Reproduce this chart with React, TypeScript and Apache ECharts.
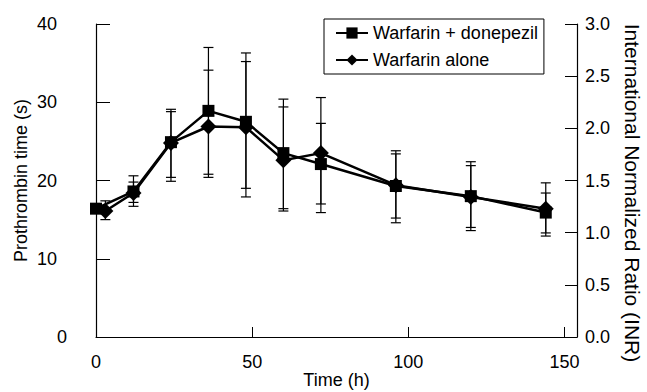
import React, { useEffect, useRef } from "react";
import * as echarts from "echarts";

const xTicks = [0, 50, 100, 150];
const leftTicks = [0, 10, 20, 30, 40];
const rightTicks = [0, 0.5, 1, 1.5, 2, 2.5, 3];

const seriesNames = ["Warfarin + donepezil", "Warfarin alone"];
const rightTitle = "International Normalized Ratio (INR)";

const squareTime = [0, 12, 24, 36, 48, 60, 72, 96, 120, 144];
const squareMean = [16.4, 18.6, 24.9, 28.9, 27.5, 23.5, 22.1, 19.3, 18.0, 15.9];
const squareUpper = [null, 20.6, 29.1, 37.0, 36.3, 30.4, 27.3, 23.4, 22.4, 18.4];
const squareLower = [null, 16.7, 20.4, 20.8, 19.0, 16.4, 17.0, 15.2, 13.6, 13.3];

const diamondTime = [3, 12, 24, 36, 48, 60, 72, 96, 120, 144];
const diamondMean = [16.1, 18.4, 24.8, 26.9, 26.8, 22.6, 23.5, 19.4, 17.9, 16.4];
const diamondUpper = [17.4, 19.8, 28.8, 34.1, 35.2, 29.4, 30.6, 23.8, 21.9, 19.7];
const diamondLower = [15.0, 17.2, 19.9, 20.4, 17.9, 16.1, 15.9, 14.6, 14.0, 12.9];

const FONT = "'Liberation Sans', Arial, Helvetica, sans-serif";
const FS = 18;

function pairs(t: number[], v: number[]) {
  return t.map((x, i) => [x, v[i]]);
}
function bars(t: number[], lo: (number | null)[], hi: (number | null)[]) {
  const out: number[][] = [];
  t.forEach((x, i) => {
    if (lo[i] != null && hi[i] != null) out.push([x, lo[i] as number, hi[i] as number]);
  });
  return out;
}

const errorRender = (params: any, api: any) => {
  const x = api.value(0);
  const lo = api.value(1);
  const hi = api.value(2);
  const a = api.coord([x, hi]);
  const b = api.coord([x, lo]);
  const w = 5;
  const st = { stroke: "#000", lineWidth: 1.2 };
  return {
    type: "group",
    children: [
      { type: "line", shape: { x1: a[0], y1: a[1], x2: b[0], y2: b[1] }, style: st },
      { type: "line", shape: { x1: a[0] - w, y1: a[1], x2: a[0] + w, y2: a[1] }, style: st },
      { type: "line", shape: { x1: b[0] - w, y1: b[1], x2: b[0] + w, y2: b[1] }, style: st },
    ],
  };
};

export default function App() {
  const ref = useRef<HTMLDivElement>(null);
  useEffect(() => {
    document.body.style.margin = "0";
    const chart = echarts.init(ref.current as HTMLDivElement, null, { renderer: "svg" });
    const axisText = { color: "#000", fontSize: FS, fontFamily: FONT };
    chart.setOption({
      animation: false,
      backgroundColor: "#fff",
      textStyle: { fontFamily: FONT },
      grid: {
        left: 96,
        right: 70,
        top: 24,
        bottom: 55,
        containLabel: false,
        outerBoundsMode: "none",
      },
      legend: {
        data: seriesNames,
        orient: "vertical",
        left: 324,
        top: 19,
        padding: [5, 6, 5, 11],
        itemGap: 9,
        itemWidth: 32,
        itemHeight: 14,
        borderColor: "#000",
        borderWidth: 1,
        borderRadius: 0,
        backgroundColor: "#fff",
        textStyle: { color: "#000", fontSize: FS, fontFamily: FONT },
      },
      graphic: [
        {
          type: "text",
          x: 632,
          y: 193,
          rotation: -Math.PI / 2,
          style: {
            text: rightTitle,
            fill: "#000",
            fontSize: 21,
            fontFamily: FONT,
            align: "center",
            verticalAlign: "middle",
          },
        },
      ],
      xAxis: {
        type: "value",
        min: 0,
        max: 154,
        interval: 50,
        name: "Time (h)",
        nameLocation: "middle",
        nameGap: 34,
        nameMoveOverlap: false,
        nameTextStyle: axisText,
        axisLine: { lineStyle: { color: "#000", width: 1.2 } },
        axisTick: { inside: true, length: 10, lineStyle: { color: "#000" } },
        axisLabel: {
          ...axisText,
          margin: 16,
          showMaxLabel: false,
          formatter: (v: number) => (xTicks.includes(v) ? String(v) : ""),
        },
        splitLine: { show: false },
      },
      yAxis: [
        {
          type: "value",
          min: 0,
          max: 40,
          interval: 10,
          name: "Prothrombin time (s)",
          nameLocation: "middle",
          nameRotate: 90,
          nameGap: 66,
          nameMoveOverlap: false,
          nameTextStyle: axisText,
          axisLine: { show: true, lineStyle: { color: "#000", width: 1.2 } },
          axisTick: { show: true, inside: true, length: 14, lineStyle: { color: "#000" } },
          axisLabel: {
            ...axisText,
            margin: 29,
            formatter: (v: number) =>
              leftTicks.includes(v) ? (v === 0 ? "{z|0}" : `{n|${v}}`) : "",
            rich: {
              z: { fontSize: FS, fontFamily: FONT, color: "#000" },
              n: { fontSize: FS, fontFamily: FONT, color: "#000", padding: [0, 10, 0, 0] },
            },
          },
          splitLine: { show: false },
        },
        {
          type: "value",
          position: "right",
          min: 0,
          max: 3,
          interval: 0.5,
          axisLine: { show: true, lineStyle: { color: "#000", width: 1.2 } },
          axisTick: { show: true, inside: true, length: 12, lineStyle: { color: "#000" } },
          axisLabel: {
            ...axisText,
            margin: 8,
            formatter: (v: number) => (rightTicks.includes(v) ? v.toFixed(1) : ""),
          },
          splitLine: { show: false },
        },
      ],
      series: [
        {
          name: "sqErr",
          type: "custom",
          renderItem: errorRender,
          encode: { x: 0, y: [1, 2] },
          data: bars(squareTime, squareLower, squareUpper),
          z: 1,
          silent: true,
        },
        {
          name: "diErr",
          type: "custom",
          renderItem: errorRender,
          encode: { x: 0, y: [1, 2] },
          data: bars(diamondTime, diamondLower, diamondUpper),
          z: 1,
          silent: true,
        },
        {
          name: seriesNames[1],
          type: "line",
          data: pairs(diamondTime, diamondMean),
          symbol: "diamond",
          symbolSize: 16,
          lineStyle: { color: "#000", width: 2.5 },
          itemStyle: { color: "#000" },
          z: 3,
        },
        {
          name: seriesNames[0],
          type: "line",
          data: pairs(squareTime, squareMean),
          symbol: "rect",
          symbolSize: 12,
          lineStyle: { color: "#000", width: 2.5 },
          itemStyle: { color: "#000" },
          z: 4,
        },
      ],
    });
    return () => chart.dispose();
  }, []);
  return (
    <div
      ref={ref}
      style={{ position: "absolute", left: 0, top: 0, width: 647, height: 392 }}
    />
  );
}
